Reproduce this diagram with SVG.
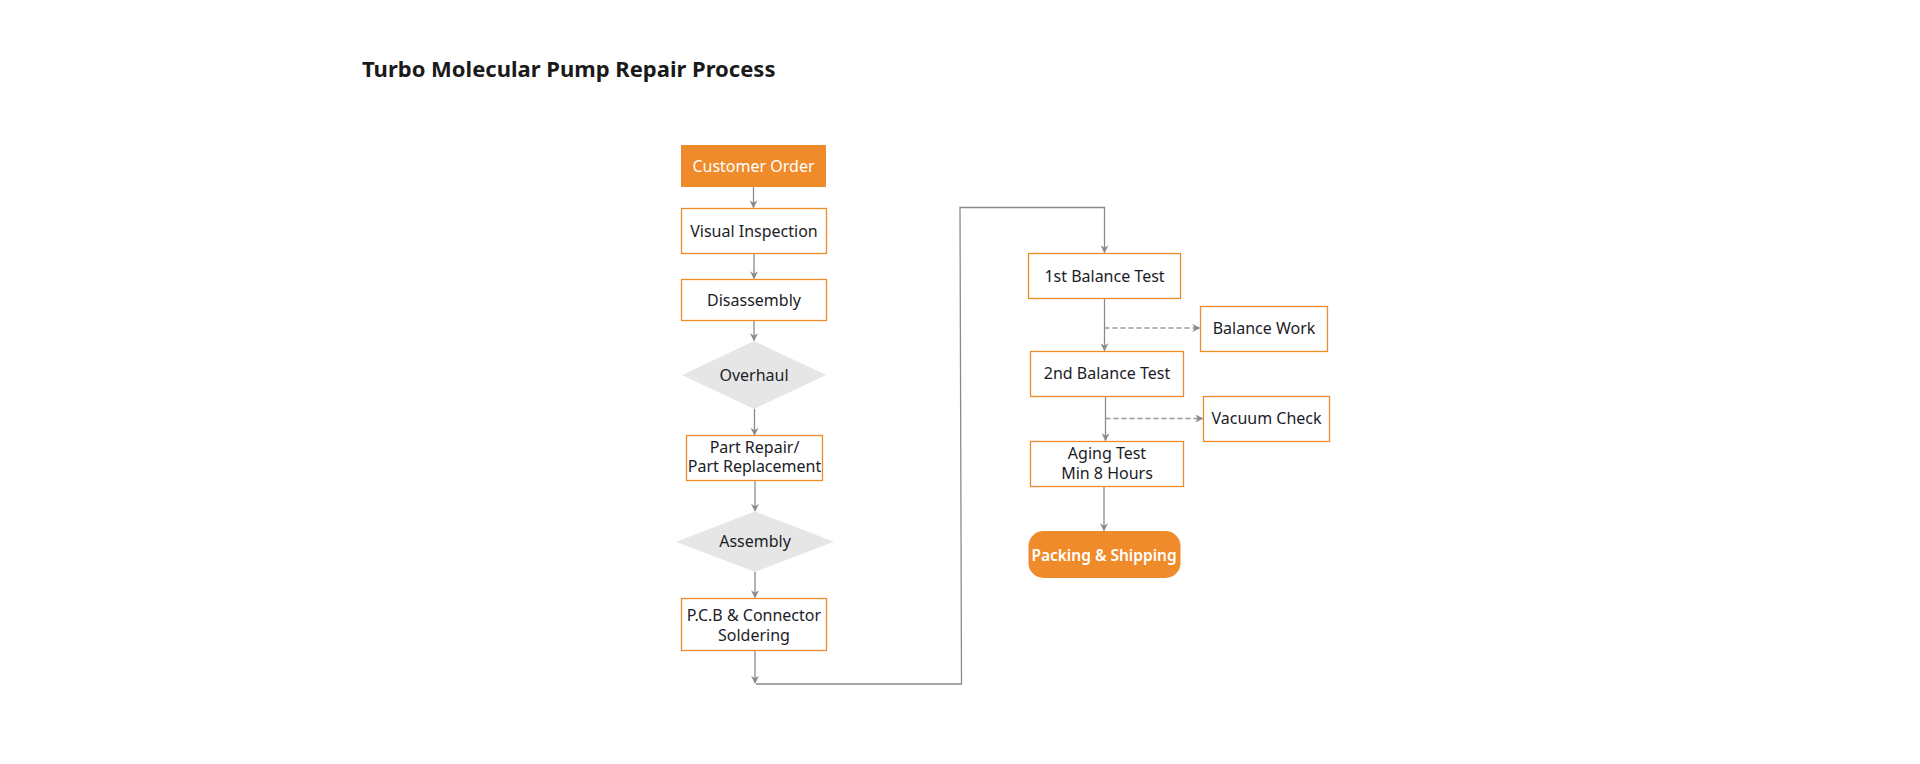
<svg xmlns="http://www.w3.org/2000/svg" width="1920" height="764" viewBox="0 0 1920 764">
  <defs>
    <marker id="arr" viewBox="0 0 10 10" refX="9" refY="5" markerWidth="8" markerHeight="8" markerUnits="userSpaceOnUse" orient="auto">
      <path d="M0,0 L10,5 L0,10 L3,5 z" fill="#8a8a8a"/>
    </marker>
    <style>
      .box { fill: #ffffff; stroke: #ef8b2a; stroke-width: 1.3; }
      .solid { fill: #ef8b2a; stroke: none; }
      .dia { fill: #e6e6e6; stroke: none; }
      .t { font-family: "Noto Sans", "Liberation Sans", sans-serif; font-size: 16px; fill: #1c1c28; text-anchor: middle; }
      .tw { font-family: "Noto Sans", "Liberation Sans", sans-serif; font-size: 16px; fill: #ffffff; text-anchor: middle; }
      .line { fill: none; stroke: #8a8a8a; stroke-width: 1.3; }
      .dash { fill: none; stroke: #9a9a9a; stroke-width: 1.3; stroke-dasharray: 5 3; }
      .title { font-family: "Noto Sans", "Liberation Sans", sans-serif; font-size: 22px; font-weight: bold; fill: #1a1a1a; }
    </style>
  </defs>
  <rect width="1920" height="764" fill="#ffffff"/>
  <text class="title" x="362" y="77">Turbo Molecular Pump Repair Process</text>

  <g id="connectors">
    <path class="line" d="M753.5,187 V207.5" marker-end="url(#arr)"/>
    <path class="line" d="M754,253.5 V278.5" marker-end="url(#arr)"/>
    <path class="line" d="M754,321 V340.5" marker-end="url(#arr)"/>
    <path class="line" d="M754.5,409 V435" marker-end="url(#arr)"/>
    <path class="line" d="M755,480.5 V511" marker-end="url(#arr)"/>
    <path class="line" d="M755,572 V597.5" marker-end="url(#arr)"/>
    <path class="line" d="M755,650.5 V683" marker-end="url(#arr)"/>
    <path class="line" d="M756,684 H961.5 L960,207.5 H1104.5 V252.5" marker-end="url(#arr)"/>
    <path class="line" d="M1104.5,298.5 V350.5" marker-end="url(#arr)"/>
    <path class="dash" d="M1104.5,328 H1199.5" marker-end="url(#arr)"/>
    <path class="line" d="M1105.5,396.5 V440.5" marker-end="url(#arr)"/>
    <path class="dash" d="M1105.5,418.5 H1202.5" marker-end="url(#arr)"/>
    <path class="line" d="M1104,486.5 V530.5" marker-end="url(#arr)"/>
  </g>

  <g id="customer-order">
    <rect class="solid" x="681" y="145" width="145" height="42"/>
    <text class="tw" x="753.5" y="171.5">Customer Order</text>
  </g>
  <g id="visual-inspection">
    <rect class="box" x="681.5" y="208.5" width="145" height="45"/>
    <text class="t" x="754" y="236.5">Visual Inspection</text>
  </g>
  <g id="disassembly">
    <rect class="box" x="681.5" y="279.5" width="145" height="41"/>
    <text class="t" x="754" y="305.5">Disassembly</text>
  </g>
  <g id="overhaul">
    <polygon class="dia" points="754,341 826,375 754,409 682,375"/>
    <text class="t" x="754" y="380.5">Overhaul</text>
  </g>
  <g id="part-repair">
    <rect class="box" x="686.5" y="435.5" width="136" height="45"/>
    <text class="t" x="754.5" y="453">Part Repair/</text>
    <text class="t" x="754.5" y="472">Part Replacement</text>
  </g>
  <g id="assembly">
    <polygon class="dia" points="755,511.5 834,541.7 755,572 676,541.7"/>
    <text class="t" x="755" y="547">Assembly</text>
  </g>
  <g id="pcb-soldering">
    <rect class="box" x="681.5" y="598.5" width="145" height="52"/>
    <text class="t" x="754" y="621">P.C.B &amp; Connector</text>
    <text class="t" x="754" y="641">Soldering</text>
  </g>
  <g id="balance-test-1">
    <rect class="box" x="1028.5" y="253.5" width="152" height="45"/>
    <text class="t" x="1104.5" y="281.5">1st Balance Test</text>
  </g>
  <g id="balance-work">
    <rect class="box" x="1200.5" y="306.5" width="127" height="45"/>
    <text class="t" x="1264" y="333.5">Balance Work</text>
  </g>
  <g id="balance-test-2">
    <rect class="box" x="1030.5" y="351.5" width="153" height="45"/>
    <text class="t" x="1107" y="379">2nd Balance Test</text>
  </g>
  <g id="vacuum-check">
    <rect class="box" x="1203.5" y="396.5" width="126" height="45"/>
    <text class="t" x="1266.5" y="423.5">Vacuum Check</text>
  </g>
  <g id="aging-test">
    <rect class="box" x="1030.5" y="441.5" width="153" height="45"/>
    <text class="t" x="1107" y="459">Aging Test</text>
    <text class="t" x="1107" y="479">Min 8 Hours</text>
  </g>
  <g id="packing-shipping">
    <rect class="solid" x="1028.5" y="531" width="152" height="47" rx="15" ry="15"/>
    <text class="tw" x="1104" y="561" style="font-weight:600;font-size:15.5px">Packing &amp; Shipping</text>
  </g>
</svg>
